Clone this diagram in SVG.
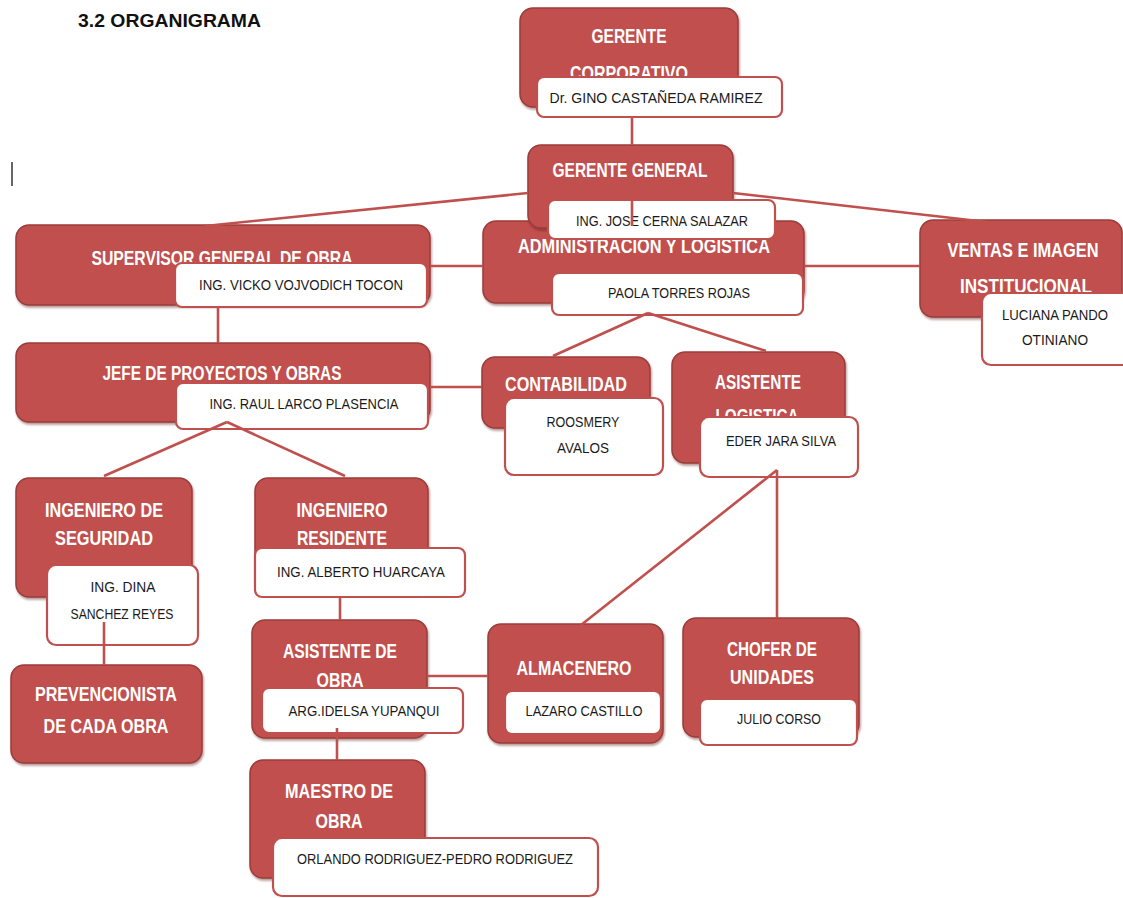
<svg xmlns="http://www.w3.org/2000/svg" width="1123" height="898" viewBox="0 0 1123 898">
<defs>
<filter id="sh" x="-10%" y="-10%" width="120%" height="130%">
<feDropShadow dx="1" dy="2" stdDeviation="1" flood-color="#5a1c1a" flood-opacity="0.45"/>
</filter>
<style>
.r{fill:#C0504D;stroke:#9A3C3A;stroke-width:1.5;filter:url(#sh)}
.w{fill:#FFFFFF;stroke:#C0504D;stroke-width:2.2}
.t{font-family:"Liberation Sans",Arial,sans-serif;font-weight:bold;font-size:20px;fill:#FFFFFF;text-anchor:middle}
.n{font-family:"Liberation Sans",Arial,sans-serif;font-size:14px;fill:#1a1a1a;text-anchor:middle}
.c line{stroke:#C0504D;stroke-width:2.6;stroke-linecap:butt}
</style>
</defs>
<rect width="1123" height="898" fill="#FFFFFF"/>
<text x="78" y="27" font-family="Liberation Sans,Arial,sans-serif" font-weight="bold" font-size="19" fill="#111" textLength="183" lengthAdjust="spacingAndGlyphs">3.2 ORGANIGRAMA</text>
<line x1="12" y1="162" x2="12" y2="186" stroke="#000" stroke-width="1.2"/>

<g id="gerente-corporativo">
<rect class="r" x="520" y="8" width="218" height="99" rx="13"/>
<text class="t" x="629" y="43" textLength="75" lengthAdjust="spacingAndGlyphs">GERENTE</text>
<text class="t" x="629" y="80" textLength="118" lengthAdjust="spacingAndGlyphs">CORPORATIVO</text>
<rect class="w" x="537" y="77" width="245" height="40" rx="7"/>
<text class="n" x="656" y="103" textLength="213" lengthAdjust="spacingAndGlyphs">Dr. GINO CASTAÑEDA RAMIREZ</text>
</g>

<g id="administracion">
<rect class="r" x="483" y="221" width="321" height="82" rx="13"/>
<text class="t" x="644" y="253" textLength="252" lengthAdjust="spacingAndGlyphs">ADMINISTRACION Y LOGISTICA</text>
<rect class="w" x="552" y="273" width="251" height="42" rx="7"/>
<text class="n" x="679" y="298" textLength="142" lengthAdjust="spacingAndGlyphs">PAOLA TORRES ROJAS</text>
</g>

<g id="gerente-general">
<rect class="r" x="528" y="145" width="205" height="83" rx="13"/>
<text class="t" x="630" y="177" textLength="155" lengthAdjust="spacingAndGlyphs">GERENTE GENERAL</text>
<rect class="w" x="548" y="200" width="227" height="39" rx="7"/>
<text class="n" x="662" y="226" textLength="172" lengthAdjust="spacingAndGlyphs">ING. JOSE CERNA SALAZAR</text>
</g>

<g id="supervisor">
<rect class="r" x="16" y="225" width="414" height="80" rx="13"/>
<text class="t" x="222" y="265" textLength="261" lengthAdjust="spacingAndGlyphs">SUPERVISOR GENERAL DE OBRA</text>
<rect class="w" x="175" y="263" width="252" height="44" rx="7"/>
<text class="n" x="301" y="290" textLength="204" lengthAdjust="spacingAndGlyphs">ING. VICKO VOJVODICH TOCON</text>
</g>

<g id="ventas">
<rect class="r" x="920" y="220" width="202" height="97" rx="13"/>
<text class="t" x="1023" y="257" textLength="151" lengthAdjust="spacingAndGlyphs">VENTAS E IMAGEN</text>
<text class="t" x="1026" y="293" textLength="132" lengthAdjust="spacingAndGlyphs">INSTITUCIONAL</text>
<rect class="w" x="982" y="293" width="150" height="72" rx="9"/>
<text class="n" x="1055" y="320" textLength="106" lengthAdjust="spacingAndGlyphs">LUCIANA PANDO</text>
<text class="n" x="1055" y="345" textLength="66" lengthAdjust="spacingAndGlyphs">OTINIANO</text>
</g>

<g id="jefe-proyectos">
<rect class="r" x="16" y="343" width="414" height="79" rx="13"/>
<text class="t" x="222" y="380" textLength="239" lengthAdjust="spacingAndGlyphs">JEFE DE PROYECTOS Y OBRAS</text>
<rect class="w" x="176" y="383" width="252" height="46" rx="7"/>
<text class="n" x="304" y="409" textLength="189" lengthAdjust="spacingAndGlyphs">ING. RAUL LARCO PLASENCIA</text>
</g>

<g id="contabilidad">
<rect class="r" x="482" y="357" width="168" height="71" rx="13"/>
<text class="t" x="566" y="391" textLength="122" lengthAdjust="spacingAndGlyphs">CONTABILIDAD</text>
<rect class="w" x="505" y="398" width="158" height="77" rx="9"/>
<text class="n" x="583" y="427" textLength="73" lengthAdjust="spacingAndGlyphs">ROOSMERY</text>
<text class="n" x="583" y="453" textLength="52" lengthAdjust="spacingAndGlyphs">AVALOS</text>
</g>

<g id="asistente-logistica">
<rect class="r" x="672" y="352" width="173" height="111" rx="13"/>
<text class="t" x="758" y="389" textLength="86" lengthAdjust="spacingAndGlyphs">ASISTENTE</text>
<text class="t" x="757" y="423" textLength="83" lengthAdjust="spacingAndGlyphs">LOGISTICA</text>
<rect class="w" x="700" y="417" width="158" height="60" rx="9"/>
<text class="n" x="781" y="446" textLength="110" lengthAdjust="spacingAndGlyphs">EDER JARA SILVA</text>
</g>

<g id="ingeniero-seguridad">
<rect class="r" x="16" y="478" width="176" height="119" rx="13"/>
<text class="t" x="104" y="517" textLength="118" lengthAdjust="spacingAndGlyphs">INGENIERO DE</text>
<text class="t" x="104" y="545" textLength="98" lengthAdjust="spacingAndGlyphs">SEGURIDAD</text>
<rect class="w" x="47" y="565" width="151" height="80" rx="9"/>
<text class="n" x="123" y="592" textLength="65" lengthAdjust="spacingAndGlyphs">ING. DINA</text>
<text class="n" x="122" y="619" textLength="103" lengthAdjust="spacingAndGlyphs">SANCHEZ REYES</text>
</g>

<g id="prevencionista">
<rect class="r" x="11" y="665" width="191" height="98" rx="13"/>
<text class="t" x="106" y="701" textLength="142" lengthAdjust="spacingAndGlyphs">PREVENCIONISTA</text>
<text class="t" x="106" y="733" textLength="125" lengthAdjust="spacingAndGlyphs">DE CADA OBRA</text>
</g>

<g id="ingeniero-residente">
<rect class="r" x="255" y="478" width="173" height="116" rx="13"/>
<text class="t" x="342" y="517" textLength="91" lengthAdjust="spacingAndGlyphs">INGENIERO</text>
<text class="t" x="342" y="545" textLength="90" lengthAdjust="spacingAndGlyphs">RESIDENTE</text>
<rect class="w" x="255" y="548" width="210" height="49" rx="7"/>
<text class="n" x="361" y="577" textLength="168" lengthAdjust="spacingAndGlyphs">ING. ALBERTO HUARCAYA</text>
</g>

<g id="asistente-obra">
<rect class="r" x="252" y="620" width="175" height="118" rx="13"/>
<text class="t" x="340" y="658" textLength="114" lengthAdjust="spacingAndGlyphs">ASISTENTE DE</text>
<text class="t" x="340" y="687" textLength="47" lengthAdjust="spacingAndGlyphs">OBRA</text>
<rect class="w" x="262" y="688" width="201" height="45" rx="7"/>
<text class="n" x="364" y="716" textLength="151" lengthAdjust="spacingAndGlyphs">ARG.IDELSA YUPANQUI</text>
</g>

<g id="maestro-obra">
<rect class="r" x="250" y="760" width="175" height="118" rx="13"/>
<text class="t" x="339" y="798" textLength="108" lengthAdjust="spacingAndGlyphs">MAESTRO DE</text>
<text class="t" x="339" y="828" textLength="47" lengthAdjust="spacingAndGlyphs">OBRA</text>
<rect class="w" x="273" y="838" width="325" height="58" rx="9"/>
<text class="n" x="435" y="864" textLength="276" lengthAdjust="spacingAndGlyphs">ORLANDO RODRIGUEZ-PEDRO RODRIGUEZ</text>
</g>

<g id="almacenero">
<rect class="r" x="488" y="624" width="175" height="119" rx="13"/>
<text class="t" x="574" y="675" textLength="115" lengthAdjust="spacingAndGlyphs">ALMACENERO</text>
<rect class="w" x="505" y="691" width="156" height="43" rx="7"/>
<text class="n" x="584" y="716" textLength="117" lengthAdjust="spacingAndGlyphs">LAZARO CASTILLO</text>
</g>

<g id="chofer">
<rect class="r" x="683" y="618" width="176" height="119" rx="13"/>
<text class="t" x="772" y="656" textLength="90" lengthAdjust="spacingAndGlyphs">CHOFER DE</text>
<text class="t" x="772" y="684" textLength="84" lengthAdjust="spacingAndGlyphs">UNIDADES</text>
<rect class="w" x="700" y="699" width="157" height="46" rx="7"/>
<text class="n" x="779" y="724" textLength="84" lengthAdjust="spacingAndGlyphs">JULIO CORSO</text>
</g>

<g id="connectors" class="c">
<line x1="632" y1="117" x2="632" y2="145"/>
<line x1="632" y1="200" x2="632" y2="226"/>
<line x1="528" y1="193" x2="205" y2="226"/>
<line x1="733" y1="193" x2="987" y2="222"/>
<line x1="430" y1="266" x2="483" y2="266"/>
<line x1="804" y1="266" x2="920" y2="266"/>
<line x1="218" y1="307" x2="218" y2="343"/>
<line x1="648" y1="313" x2="553" y2="356"/>
<line x1="648" y1="313" x2="766" y2="351"/>
<line x1="430" y1="387" x2="482" y2="387"/>
<line x1="227" y1="422" x2="104" y2="476"/>
<line x1="227" y1="422" x2="345" y2="476"/>
<line x1="104" y1="622" x2="104" y2="665"/>
<line x1="340" y1="597" x2="340" y2="620"/>
<line x1="427" y1="676" x2="488" y2="676"/>
<line x1="337" y1="728" x2="337" y2="760"/>
<line x1="777" y1="470" x2="581" y2="625"/>
<line x1="777" y1="470" x2="777" y2="618"/>
</g>
</svg>
